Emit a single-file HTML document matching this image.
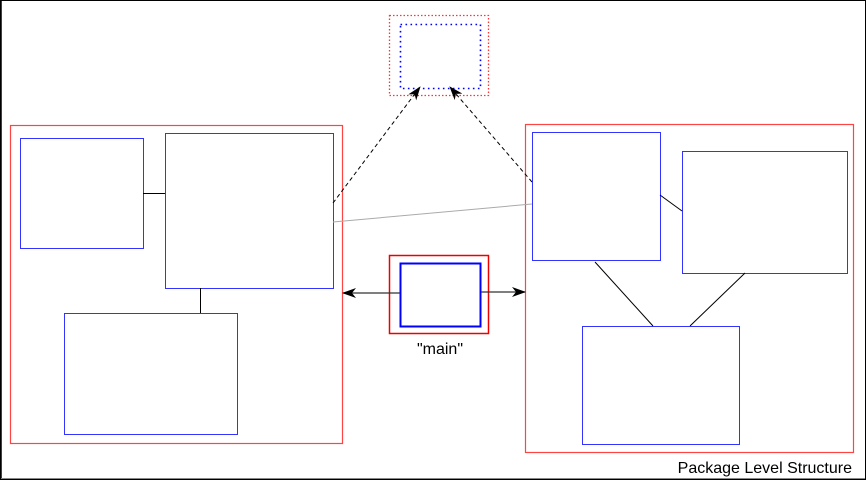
<!DOCTYPE html>
<html><head><style>
html,body{margin:0;padding:0;background:#fff;}
svg{display:block;}
</style></head><body>
<svg width="866" height="480" xmlns="http://www.w3.org/2000/svg" font-family="Liberation Sans, sans-serif">
<defs>
<marker id="ah" viewBox="0 0 14 10" refX="13" refY="5" markerWidth="14" markerHeight="10" markerUnits="userSpaceOnUse" orient="auto">
<path d="M0,0 L14,5 L0,10 L4,5 Z" fill="#000"/>
</marker>
</defs>
<rect x="0.5" y="0.5" width="865" height="479" fill="#fff" stroke="#000" stroke-width="1"/>
<line x1="1" y1="1" x2="1" y2="479" stroke="#000" stroke-width="1.5"/>
<line x1="1" y1="478.5" x2="865" y2="478.5" stroke="#888" stroke-width="1"/>

<!-- top dotted -->
<rect x="389.5" y="15.5" width="99" height="80" fill="none" stroke="#f33" stroke-width="1.3" stroke-dasharray="1.5,2"/>
<rect x="400.5" y="24.5" width="80" height="64" fill="none" stroke="#00f" stroke-width="1.6" stroke-dasharray="1.6,3.4"/>

<!-- left package -->
<rect x="10.5" y="125.5" width="332" height="318" fill="none" stroke="#f44" stroke-width="1.2"/>
<rect x="20.5" y="138.5" width="123" height="110" fill="none" stroke="#33f"/>
<rect x="165.5" y="133.5" width="168" height="155" fill="none" stroke="#33f"/>
<rect x="64.5" y="313.5" width="173" height="121" fill="none" stroke="#33f"/>
<line x1="143" y1="193.5" x2="165" y2="193.5" stroke="#000"/>
<line x1="200.5" y1="288" x2="200.5" y2="313" stroke="#000"/>

<!-- right package -->
<rect x="525.5" y="124.5" width="328" height="328" fill="none" stroke="#f44" stroke-width="1.2"/>
<rect x="532.5" y="132.5" width="128" height="128" fill="none" stroke="#33f"/>
<rect x="682.5" y="151.5" width="165" height="122" fill="none" stroke="#33f"/>
<rect x="582.5" y="326.5" width="157" height="118" fill="none" stroke="#33f"/>
<line x1="660" y1="195" x2="682" y2="211" stroke="#000"/>
<line x1="595" y1="262" x2="653" y2="326" stroke="#000"/>
<line x1="745" y1="273" x2="690" y2="326" stroke="#000"/>

<!-- gray -->
<line x1="333" y1="222" x2="532" y2="204" stroke="#aaa"/>

<!-- main -->
<rect x="389.5" y="255.5" width="99" height="78" fill="none" stroke="#e00" stroke-width="1.5"/>
<rect x="400.5" y="263.5" width="80" height="63" fill="none" stroke="#00f" stroke-width="2"/>
<line x1="400" y1="293" x2="343" y2="293" stroke="#333" stroke-width="1.3" marker-end="url(#ah)"/>
<line x1="481" y1="292" x2="525" y2="292" stroke="#333" stroke-width="1.3" marker-end="url(#ah)"/>
<text x="440" y="354" font-size="16" text-anchor="middle">"main"</text>

<!-- dashed arrows -->
<line x1="333" y1="203" x2="420" y2="87" stroke="#000" stroke-dasharray="4,3" marker-end="url(#ah)"/>
<line x1="532" y1="182" x2="450" y2="87" stroke="#000" stroke-dasharray="4,3" marker-end="url(#ah)"/>

<text x="852" y="473" font-size="16" text-anchor="end">Package Level Structure</text>
</svg>
</body></html>
